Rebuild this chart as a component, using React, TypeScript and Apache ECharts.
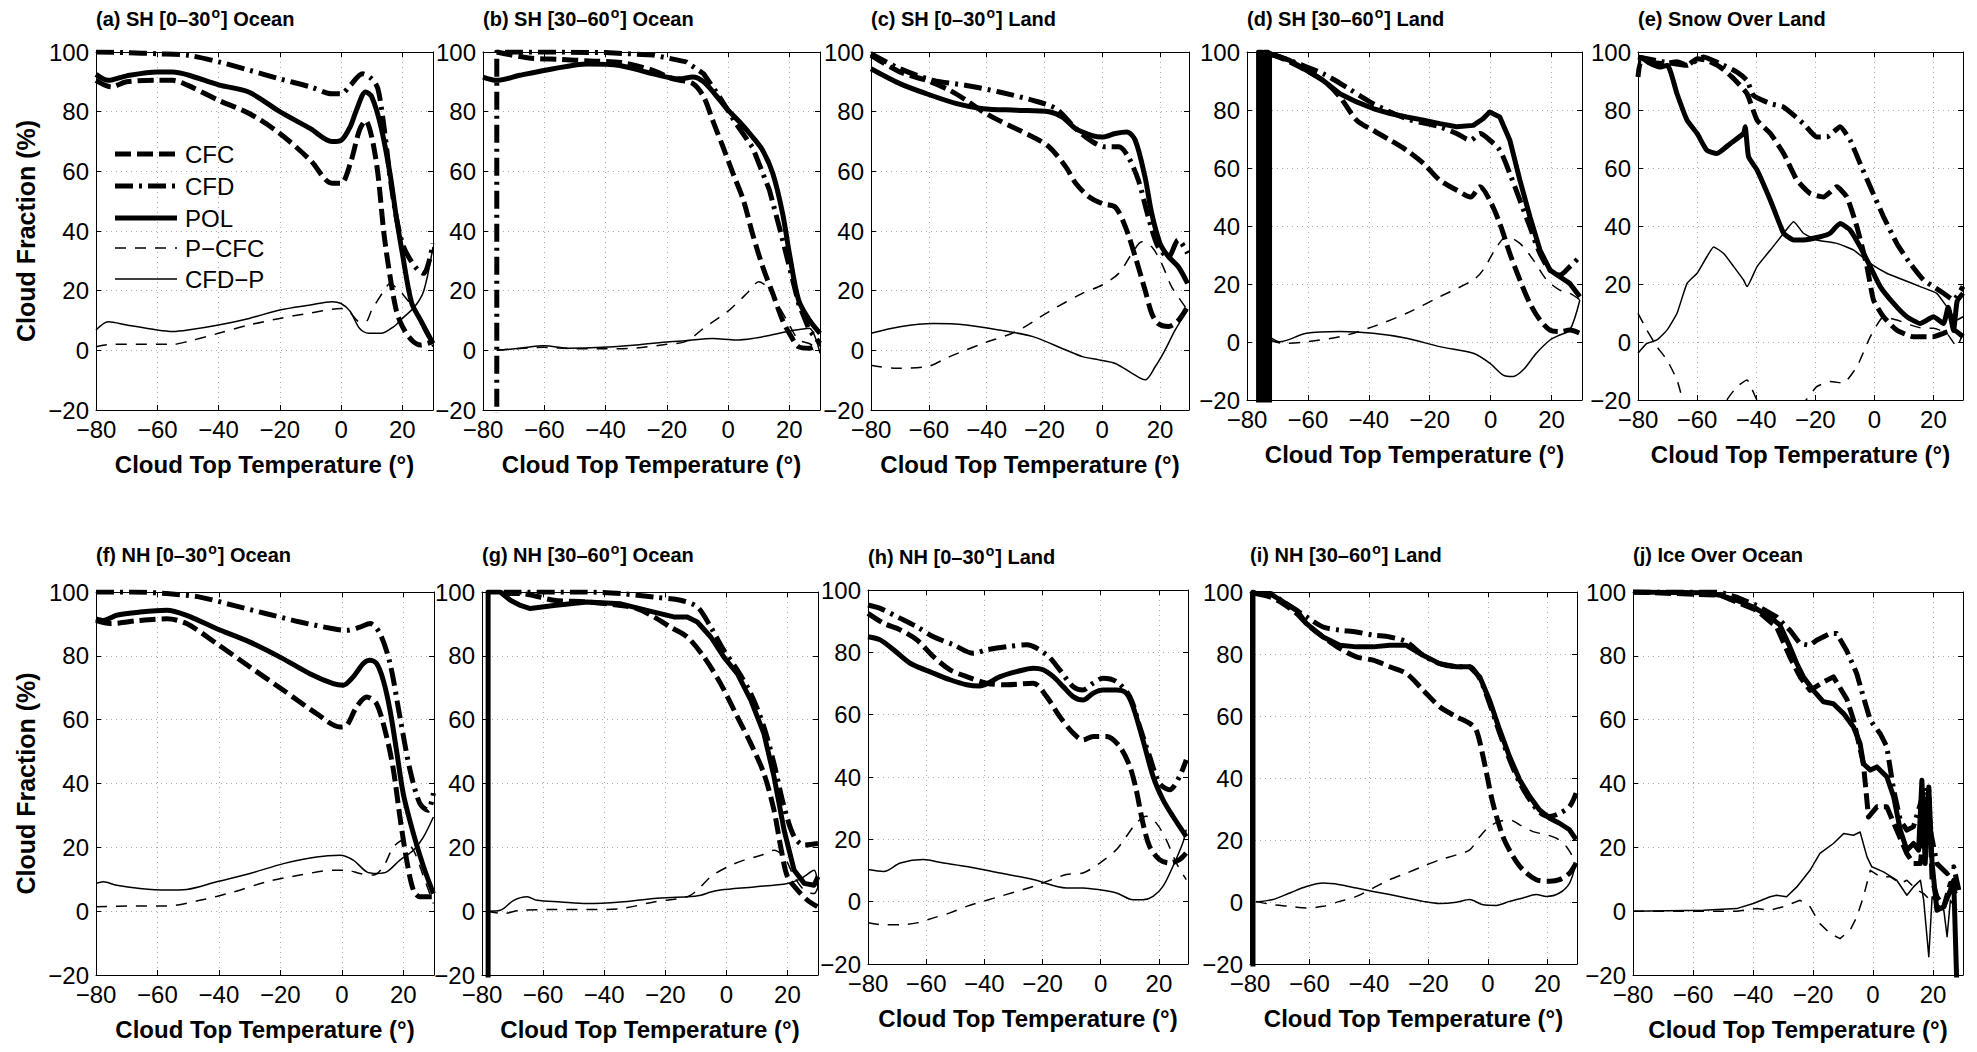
import React, { useEffect, useRef } from 'react';
import * as echarts from 'echarts';

type Pt = [number, number];

// ---- (a) SH [0-30] Ocean ----
const A_CFC: Pt[] = [[-80,90.5],[-75,88.3],[-70,90],[-60,90.5],[-55,90.5],[-50,88.8],[-40,83.8],[-30,79.4],[-20,72.7],[-10,63.7],[-3,56],[0,56],[3,62.6],[6,73.8],[8,77],[10,71.5],[12,59.3],[14,39],[16,24.7],[18,13.5],[20,8],[23,3.5],[26,1.8],[30,3]];
const A_CFD: Pt[] = [[-80,100],[-70,99.8],[-60,99.4],[-50,98.9],[-40,96.7],[-30,93.9],[-20,91],[-10,88.3],[-3,86],[0,86],[3,88.8],[7,92.7],[10,91],[12,87.7],[14,75],[16,58],[18,44.8],[20,35.8],[22,31.4],[25,27],[27,25.8],[30,35.8]];
const A_POL: Pt[] = [[-80,92.5],[-76,90.5],[-70,92],[-60,93.3],[-55,93.3],[-50,92.3],[-40,89],[-30,86.5],[-20,80],[-10,74.3],[-3,70],[0,70.4],[3,75],[5,80.5],[8,86.6],[10,85],[13,75],[16,59],[18,44.8],[20,32.5],[23,16],[26,10],[30,2.3]];
const A_PCFC: Pt[] = [[-80,1.2],[-75,2],[-60,2],[-55,2],[-50,3],[-40,5.7],[-30,8.5],[-20,10.7],[-10,12.5],[0,14],[3,12.5],[6,9.6],[8,9.6],[10,13.5],[14,20],[16,22.4],[18,21],[20,19],[24,13.5],[27,6.8],[30,1.2]];
const A_CFDP: Pt[] = [[-80,6.8],[-76,9.6],[-70,8.5],[-60,6.8],[-55,6.3],[-50,6.8],[-40,8.5],[-30,10.7],[-20,13.5],[-10,15.2],[-3,16.3],[0,15.7],[3,13],[6,7.4],[9,5.7],[13,5.7],[17,7.8],[20,10.7],[24,14.6],[27,20],[30,34.7]];

// ---- (b) SH [30-60] Ocean ----
const B_CFC: Pt[] = [[-75.5,100],[-65,98],[-55,97.5],[-45,97],[-35,96.5],[-25,94],[-18,91],[-11.5,89.4],[-8,85],[-5,77],[-1.6,68],[1.6,59.3],[5,50.3],[8,39],[11.3,28],[14.6,19],[17.8,10],[20,5.7],[23,1.2],[26.5,0.7],[30,2.3]];
const B_CFD: Pt[] = [[-75.5,-30],[-75.5,100],[-55,100],[-40,99.8],[-24.5,99],[-13.7,96.7],[-8,92.7],[-2.8,85],[2.6,76],[8,68],[13.5,53.7],[16.7,41.4],[20,28],[23,15.7],[26.5,6.8],[30,2.3]];
const B_POL: Pt[] = [[-80,91.6],[-75.6,90.5],[-68,92.2],[-57,94.4],[-46,96],[-35.4,95.5],[-24.5,92.7],[-16,91],[-11.5,91.6],[-8,90],[-4,85.5],[0,80.5],[3.7,76.6],[8,71.5],[11.3,67],[14.6,59.3],[17.8,45.9],[20,32.5],[23,16.9],[26.5,10.2],[30,5.7]];
const B_PCFC: Pt[] = [[-75.5,0],[-70,0.5],[-60,1],[-50,0.5],[-40,0.5],[-30,0.8],[-20,2],[-13.7,3],[-8,7.4],[0.4,13.5],[7,20],[10,23],[13,21],[16.7,14.6],[20,8.5],[23,3.5],[26.5,2.3],[30,0]];
const B_CFDP: Pt[] = [[-75.5,0],[-68,0.7],[-60,1.5],[-52,0.7],[-41,1],[-30,1.8],[-19,2.9],[-14,3.2],[-5,4],[2.6,3.5],[8,4],[13.5,5],[19,6.2],[22,6.8],[26.5,7.4],[30,-1]];

// ---- (c) SH [0-30] Land ----
const C_CFC: Pt[] = [[-80,98.9],[-70,93.3],[-60.8,90.5],[-52.8,87.2],[-47,83.8],[-41.3,80],[-35.6,77],[-24,71.5],[-18.4,68.2],[-12.6,61.5],[-9.2,56],[-4.6,51.5],[0,49.2],[4.5,48],[8,41.4],[11.4,31.4],[14.8,20.2],[17.1,12.4],[19.3,9],[22.9,8],[26.3,10],[29.5,14.6]];
const C_CFD: Pt[] = [[-80,99.4],[-70,94.4],[-58.5,90.5],[-47,88.8],[-35.6,86.6],[-24,83.8],[-16,81],[-9.2,74.3],[-3.5,70],[1,68.2],[5.7,68.2],[9,64.8],[12.5,57],[15.9,44.8],[19.3,34.7],[22.9,31.4],[26.3,37],[29.5,32.5]];
const C_POL: Pt[] = [[-80,94.4],[-70,89.4],[-60.8,86],[-50.4,82.7],[-41.3,81],[-29.8,80.5],[-18.4,80],[-13.8,78.2],[-9.2,74.3],[-3.5,72],[0,71.5],[4.5,72.7],[8.5,73.2],[11.4,70.4],[14.8,58],[17.1,45.9],[20,35.8],[22.9,31.4],[26.3,28],[29.5,22.4]];
const C_PCFC: Pt[] = [[-80,-5],[-72,-6],[-60.8,-5.5],[-52.8,-2.1],[-41.3,2.3],[-29.8,6.3],[-18.4,13],[-6.9,19.1],[0,21.9],[5.7,25.8],[10.3,32.5],[13.7,36.4],[17.1,34.7],[20.6,29],[24,21.3],[29.5,13.5]];
const C_CFDP: Pt[] = [[-80,5.7],[-70,7.9],[-58.5,9],[-47,8.5],[-35.6,6.8],[-24,4.6],[-12.6,0.1],[-6.9,-2.1],[-1.2,-3.2],[4.5,-4.4],[10.3,-7.7],[14.8,-9.9],[18.3,-5.5],[21.7,0.1],[25.2,6.8],[29.5,13.5]];

// ---- (d) SH [30-60] Land ----
const D_CFC: Pt[] = [[-72.6,99.4],[-66,96.6],[-55,90.2],[-49.5,84.5],[-44,76.5],[-38.6,73],[-33,69.6],[-27.6,66.1],[-22,61.5],[-16.7,55.8],[-11.2,52.4],[-6.6,50],[-3.5,53.5],[-0.3,48.9],[3,40.9],[6.3,30.5],[9.6,21.4],[12.9,13.3],[16.2,7.6],[19.5,4.1],[22.7,3.6],[26,4.1],[29.3,3]];
const D_CFD: Pt[] = [[-72.6,99.4],[-66,97.1],[-55,92.5],[-47.4,87.9],[-38.6,82.2],[-27.6,77],[-16.7,74.2],[-11.2,71.9],[-6.6,69.6],[-3.5,71.9],[-0.3,69.6],[3,66.1],[6.3,58.1],[9.6,48.9],[12.9,39.7],[16.2,30.5],[19.5,24.8],[22.7,23.1],[26,26],[29.3,29.4]];
const D_POL: Pt[] = [[-76.2,-30],[-76.2,100],[-75.2,100],[-75.2,-30],[-74.2,-30],[-74.2,100],[-73.2,100],[-73.2,-30],[-72.6,-30],[-72.6,99.4],[-69.3,98.3],[-66,97.1],[-60.5,93.7],[-55,90.2],[-49.5,85.6],[-44,82.8],[-38.6,80.5],[-33,78.8],[-27.6,77.6],[-22,76.5],[-16.7,75.3],[-11.2,74.2],[-5.7,74.7],[-2.5,77],[-0.3,79.3],[3,77.6],[6.3,69.6],[9.6,55.8],[12.9,43.2],[16.2,31.7],[19.5,24.8],[22.7,22.5],[26,20.2],[29.3,15.6]];
const D_PCFC: Pt[] = [[-72.6,0.7],[-68,-0.5],[-60.5,0.1],[-49.5,1.8],[-38.6,5.3],[-27.6,9.9],[-16.7,15.6],[-5.7,21.4],[-2.5,24.8],[2,32.8],[5.2,36.3],[9.6,34],[14,28.3],[18.4,21.4],[22.7,17.9],[26,16.8],[29.3,14.5]];
const D_CFDP: Pt[] = [[-72.6,1.8],[-69.3,0.1],[-60.5,3],[-49.5,3.6],[-38.6,3],[-27.6,1.3],[-16.7,-1.6],[-5.7,-3.9],[-0.3,-7.3],[4.1,-11.4],[7.4,-11.9],[10.7,-9.6],[15,-3.9],[19.5,0.7],[22.7,2.4],[26,4.1],[29.3,14.5]];

// ---- (e) Snow Over Land ----
const E_CFC: Pt[] = [[-80,91.4],[-79,96.6],[-71.3,96],[-66.8,96.6],[-63.4,95.4],[-60,97.7],[-56.7,97.1],[-52.2,94.8],[-47.6,90.8],[-43.1,85.6],[-39.7,76.5],[-35.2,71.9],[-30.7,65],[-26.2,55.8],[-21.7,51.2],[-17.2,50],[-12.7,53.5],[-9.3,50],[-5.9,39.7],[-2.5,26],[-0.3,14.5],[3.1,8.7],[7.6,4.1],[13.2,1.8],[20,1.8],[23.4,3],[26.8,4.1],[30,1.8]];
const E_CFD: Pt[] = [[-80,98.3],[-71.3,96.6],[-63.4,95.4],[-57.8,98.3],[-52.2,96],[-46.5,93.1],[-43.1,90.2],[-40.9,85],[-35.2,82.2],[-30.7,81],[-24,75.3],[-19.5,70.7],[-16.1,70.7],[-11.6,74.2],[-8.2,69.6],[-4.8,61.5],[-1.4,53.5],[3.1,43.2],[7.6,34],[12.1,27.1],[16.6,21.4],[20,19.1],[23.4,16.8],[26.8,14.5],[30,19.1]];
const E_POL: Pt[] = [[-79,98.3],[-75.8,96],[-72.4,94.8],[-70,95.4],[-66.8,85.6],[-63.4,76.5],[-60,71.9],[-56.7,66.1],[-53.3,65],[-48.8,68.4],[-44.3,71.9],[-43.7,74.2],[-42.6,63.9],[-39.7,59.3],[-35.2,48.9],[-30.7,37.5],[-27.3,35.2],[-24,35.2],[-18.3,36.3],[-15,37.5],[-11.6,40.9],[-8.2,38.6],[-4.8,32.8],[-1.4,26],[2,19.1],[6.5,13.3],[11,8.7],[15.5,6.4],[20,8.7],[23.4,6.4],[25,12],[26.8,4],[28,14],[30,16.8]];
const E_PCFC: Pt[] = [[-80,9.9],[-77,4.1],[-73.6,-1.6],[-70.2,-6.2],[-66.8,-13.1],[-63.4,-25],[-60,-30],[-54.4,-30],[-49.9,-20],[-46.5,-15.4],[-43.1,-13.1],[-39.7,-20],[-35.2,-23],[-29.6,-25],[-24,-21],[-19.5,-15.4],[-15,-13.6],[-10.5,-14.2],[-5.9,-8.5],[-1.4,1.8],[3.1,8.7],[7.6,7.6],[12.1,5.9],[16.6,4.7],[20,4.7],[24.5,3],[27.9,-1.6],[30,3]];
const E_CFDP: Pt[] = [[-80,-3.9],[-77,-0.5],[-73.6,0.7],[-70.2,4.1],[-66.8,9.9],[-63.4,20.2],[-60,23.7],[-56.7,29.4],[-54.4,32.8],[-51,30.5],[-47.6,26],[-44.3,21.4],[-43.1,19.1],[-39.7,26],[-35.2,31.7],[-30.7,37.5],[-27.3,41.5],[-24,37.5],[-19.5,35.2],[-12.7,34],[-7,31.7],[-1.4,27.1],[4.2,23.7],[9.9,21.4],[15.5,19.1],[21.1,16.8],[24.5,12.2],[27.9,7.6],[30,8.7]];

// ---- (f) NH [0-30] Ocean ----
const F_CFC: Pt[] = [[-80,91.1],[-75.4,90.1],[-65.7,91.1],[-57,91.6],[-50.5,90.1],[-40.7,83.8],[-29.9,76.5],[-19,69.2],[-8.2,61.9],[-0.6,57.7],[1.6,58.2],[4.8,64],[8.1,67.1],[11.3,65],[14.6,54.6],[16.8,44.2],[18.9,29.6],[21.1,16],[23.3,6.6],[25.4,4.5],[29.8,4.5]];
const F_CFD: Pt[] = [[-80,100],[-67.9,100],[-57,99.5],[-46.2,98.4],[-35.3,95.8],[-24.5,93.2],[-13.6,90.6],[-2.8,88.5],[1.6,88],[5.9,89],[9.2,90.1],[12.4,87],[15.7,77.6],[18.9,60.9],[22.2,44.2],[25.4,33.7],[28,31.6],[29.8,37]];
const F_POL: Pt[] = [[-80,91.6],[-77.6,91.1],[-73.3,92.7],[-65.7,93.7],[-57,94.3],[-50.5,92.7],[-40.7,88.5],[-29.9,84.3],[-20.1,79.6],[-10.4,74.4],[-2.8,71.3],[0.5,70.8],[3.7,73.4],[7,77.6],[9.2,78.6],[11.3,77.6],[13.5,72.3],[15.7,62.9],[17.8,50.4],[20,36.8],[23.3,24.3],[26.6,13.9],[29.8,5.5]];
const F_PCFC: Pt[] = [[-80,1.4],[-67.9,1.6],[-57,1.6],[-46.2,3.4],[-35.3,6],[-24.5,9.2],[-13.6,11.3],[-2.8,12.8],[1.6,12.8],[5.9,11.8],[10.3,11.3],[13.5,13.9],[16.8,20.1],[20,22.2],[23.3,19.1],[26.6,10.8],[29.8,2.4]];
const F_CFDP: Pt[] = [[-80,8.7],[-77.6,9.2],[-73.3,8.1],[-65.7,7.1],[-57,6.6],[-50.5,6.8],[-40.7,9.2],[-29.9,11.8],[-19,14.9],[-8.2,17],[-0.6,17.5],[3.7,16],[8.1,12.3],[11.3,11.8],[14.6,12.3],[18.9,16],[23.3,19.1],[26.6,23.3],[29.8,29.5]];

// ---- (g) NH [30-60] Ocean ----
const G_CFC: Pt[] = [[-72.9,99.5],[-67.4,99.5],[-56.5,97.4],[-45.6,96.9],[-34.6,95.8],[-29.2,94.8],[-23.7,92.2],[-18.3,89],[-12.8,85.9],[-7.3,79.6],[-1.9,71.3],[3.6,60.9],[8,52.5],[12.3,43.1],[15.6,31.6],[17.8,20.1],[20,10.8],[23.3,6.6],[26.6,3.4],[29.8,1.4]];
const G_CFD: Pt[] = [[-72.9,100],[-45.6,100],[-34.6,99.5],[-23.7,98.4],[-15,97.4],[-9.5,95.3],[-5.1,89],[-0.8,81.7],[3.6,75.5],[8,68.2],[12.3,57.7],[15.6,46.2],[18.9,32.7],[22.2,23.3],[25.5,20.7],[30,21.2]];
const G_POL: Pt[] = [[-78,-30],[-78,100],[-74,100],[-70.7,97.4],[-67.4,95.8],[-64.2,94.8],[-56.5,95.8],[-45.6,96.9],[-34.6,96.3],[-23.7,93.7],[-17.2,92.2],[-12.8,92.2],[-9.5,90.6],[-5.1,85.9],[-0.8,79.6],[3.6,74.4],[8,66.1],[12.3,55.6],[15.6,42.1],[18.9,25.4],[22.2,12.8],[25.5,8.7],[28.7,8.1],[30,10.8]];
const G_PCFC: Pt[] = [[-78.4,0],[-72.9,-0.7],[-67.4,0.3],[-56.5,0.5],[-45.6,0.5],[-34.6,0.8],[-23.7,2.9],[-12.8,4.5],[-9.5,6.6],[-5.1,10.8],[0.4,13.9],[5.8,16],[11.3,17.5],[15.6,19.1],[18.9,17],[22.2,10.8],[25.5,6.6],[28.7,5.5],[30,7.6]];
const G_CFDP: Pt[] = [[-78.4,0],[-74,0.3],[-69.6,3.4],[-65.2,4.5],[-62,3.4],[-54.3,2.9],[-45.6,2.4],[-34.6,2.9],[-23.7,4],[-12.8,4.5],[-8.4,5],[-5.1,6],[-1.9,6.6],[9.1,7.6],[20,8.7],[24.4,10.2],[28.7,12.8],[30,6.6]];

// ---- (h) NH [0-30] Land ----
const H_CFC: Pt[] = [[-80,92.5],[-74.6,89.3],[-68.9,87.2],[-63.2,84],[-57.5,78.6],[-51.8,74.4],[-46.1,72.2],[-39.2,70.1],[-32.3,69.6],[-23.2,70.1],[-18.6,65.8],[-14.1,59.4],[-9.5,54.1],[-6.1,51.9],[-2.6,53],[2,53],[6.5,49.8],[10,43.4],[12.2,35.9],[14.5,25.2],[16.8,17.7],[20.2,13.5],[23.7,12.4],[27.1,13.5],[29.4,15.6]];
const H_CFD: Pt[] = [[-80,95.2],[-75.8,94.1],[-68.9,90.9],[-63.2,88.2],[-57.5,85],[-50.6,82.4],[-43.8,79.7],[-39.2,80.8],[-32.3,81.8],[-25.5,82.4],[-18.6,79.2],[-14.1,74.4],[-9.5,69],[-6.1,67.9],[-2.6,70.1],[0.8,71.7],[5.4,70.6],[10,65.8],[13.4,56.2],[16.8,46.6],[20.2,38],[23.7,35.9],[27.1,40.2],[29.4,45.5]];
const H_POL: Pt[] = [[-80,85],[-75.8,84],[-71.2,80.8],[-65.5,76.5],[-57.5,73.3],[-51.8,71.2],[-46.1,69.6],[-41.5,69.2],[-34.6,72.2],[-28.9,73.8],[-23.2,74.9],[-19.8,74.4],[-16.3,72.2],[-12.9,69],[-9.5,65.8],[-6.1,64.7],[-2.6,66.9],[0.8,67.9],[5.4,67.9],[8.8,66.9],[11.1,62.6],[14.5,51.9],[18,40.2],[21.4,32.7],[24.8,27.4],[29.4,20.9]];
const H_PCFC: Pt[] = [[-80,-6.8],[-74.6,-7.4],[-68.9,-7.4],[-63.2,-6.8],[-57.5,-5.2],[-51.8,-3.6],[-46.1,-1.5],[-34.6,1.7],[-23.2,4.9],[-11.8,8.7],[-6.1,9.2],[-0.3,12.4],[5.4,16.7],[8.8,20.9],[12.2,25.2],[15.7,27.4],[19.1,25.2],[22.5,19.9],[26,12.4],[29.4,7.1]];
const H_CFDP: Pt[] = [[-80,10.3],[-74.6,9.7],[-68.9,12.4],[-60.9,13.5],[-54,12.4],[-46.1,11.3],[-34.6,9.2],[-23.2,7.1],[-11.8,4.4],[-6.1,4.4],[-0.3,3.8],[5.4,2.8],[11.1,0.6],[14.5,0.6],[18,1.7],[21.4,4.9],[24.8,11.3],[28.2,18.8],[29.4,23.1]];

// ---- (i) NH [30-60] Land ----
const I_CFC: Pt[] = [[-78,99.5],[-73.3,98.4],[-68.8,96.2],[-64.3,93],[-59.8,88.7],[-55.4,85.5],[-49.8,81.8],[-44.2,79.1],[-38.6,78],[-33,75.9],[-27.4,73.7],[-21.8,68.4],[-16.2,63],[-10.6,59.8],[-6.1,57.6],[-3.9,55.5],[-1.6,46.9],[1.7,31.9],[5.1,21.1],[8.5,14.7],[11.8,10.4],[16.3,7.2],[20.8,6.7],[24.1,7.2],[27.5,9.3],[29.7,12.6]];
const I_CFD: Pt[] = [[-78,99.5],[-73.3,99.5],[-68.8,96.8],[-64.3,94.1],[-61,92],[-55.4,88.7],[-49.8,87.7],[-44.2,87.1],[-38.6,86.1],[-33,85.5],[-27.4,83.9],[-21.8,79.6],[-16.2,76.9],[-10.6,75.9],[-6.1,75.9],[-2.7,72],[0.6,64],[4,54.5],[7.3,46],[10.7,38.5],[14.1,33],[17.4,29],[20.8,27.6],[24.1,28.6],[27.5,30.8],[29.7,35.1]];
const I_POL: Pt[] = [[-79,-30],[-79,100],[-78,99.5],[-73.3,99.5],[-68.8,96.8],[-64.3,94.1],[-61,89.8],[-55.4,85.5],[-49.8,82.8],[-44.2,82.3],[-38.6,82.3],[-33,82.8],[-27.4,82.8],[-21.8,79.6],[-16.2,76.9],[-10.6,75.9],[-6.1,75.9],[-2.7,72.6],[0.6,65.1],[4,55.5],[7.3,46.9],[10.7,39.4],[14.1,34],[17.4,29.7],[20.8,27],[24.1,25.4],[27.5,23.3],[29.7,20.1]];
const I_PCFC: Pt[] = [[-78,0.2],[-72.2,-0.9],[-66.6,-1.4],[-61,-1.9],[-55.4,-1.4],[-49.8,0.2],[-44.2,1.8],[-38.6,4.5],[-33,7.2],[-27.4,9.3],[-21.8,11.5],[-16.2,13.6],[-10.6,15.2],[-6.1,16.8],[-2.7,21.1],[0.6,24.4],[4,26],[7.3,26.5],[10.7,24.9],[15.2,22.7],[19.7,21.7],[23,20.6],[26.4,17.9],[29.7,12.6]];
const I_CFDP: Pt[] = [[-78,0],[-72.2,0.8],[-66.6,2.9],[-61,5],[-55.4,6.1],[-49.8,5.6],[-44.2,4.5],[-38.6,3.4],[-33,2.4],[-27.4,1.3],[-21.8,0.2],[-16.2,-0.5],[-10.6,-0.1],[-6.1,0.8],[-1.6,-0.9],[2.8,-1.1],[7.3,0.2],[11.8,1.3],[16.3,2.4],[19.7,1.8],[24.1,2.9],[27.5,6.1],[29.7,12.6]];

// ---- (j) Ice Over Ocean ----
const J_CFC: Pt[] = [[-80,100],[-51,99],[-45.5,96.9],[-38.8,94.3],[-32.1,89],[-27.7,79.6],[-24.3,73.4],[-21,69.2],[-16.5,71.8],[-13.2,73.4],[-8.7,66.4],[-6.5,60],[-3.2,46.2],[-1.5,29.5],[1.3,32.7],[4.6,32.7],[7.9,25.4],[11.3,18],[13.5,14.9],[15.8,14.9],[16.9,25.4],[18.6,37.9],[19.7,9.7],[21.3,4.5],[23.6,1.4],[25.8,8.7],[28,4.5]];
const J_CFD: Pt[] = [[-80,100],[-51,100],[-45.5,98.4],[-38.8,95.8],[-32.1,92.2],[-27.7,88],[-24.3,83.8],[-21,83.3],[-18.8,84.9],[-14.3,87],[-12.1,87],[-8.8,81.7],[-5.4,74.4],[-3.2,67.1],[-0.9,59.8],[2.4,55.6],[4.6,51.5],[6.9,37.9],[9.1,28.5],[11.3,25.4],[13.5,26.5],[15.8,33.7],[17.4,38.9],[19.1,25.4],[21.3,14.9],[24.7,11.8],[26.9,13.9],[28.6,6.6]];
const J_POL: Pt[] = [[-80,100],[-56.6,99.8],[-51,99],[-45.5,97.4],[-39.9,95.3],[-34.3,92.2],[-31,89.6],[-27.7,82.8],[-25.4,77.6],[-23.2,73.4],[-19.9,69.2],[-16.5,65.6],[-13.2,65],[-9.8,61.9],[-6.5,57.7],[-4.3,52.5],[-3.2,46.2],[-0.9,44.2],[1.3,45.2],[4.6,42.1],[6.9,35.8],[9.1,25.4],[11.3,19.1],[13.5,21.2],[15.2,19.1],[16.3,41],[17.4,14.9],[18.6,38.9],[19.7,14.9],[21.3,0.3],[23.6,1.4],[25.8,6.6],[26.9,9.7],[28,-25]];
const J_PCFC: Pt[] = [[-80,0],[-45.5,0],[-38.8,0.8],[-34.3,0.3],[-29.9,1.4],[-24.3,3.4],[-21,1.4],[-17.7,-3.9],[-14.3,-7],[-11,-8.6],[-7.6,-5.9],[-5.4,-1.8],[-3.2,4.5],[-0.9,12.8],[2.4,10.8],[5.7,10.8],[9.1,8.7],[11.3,9.7],[14.7,6.6],[16.9,5.5],[20.2,2.4],[23.6,0.3],[26.9,1.4]];
const J_CFDP: Pt[] = [[-80,0],[-56.6,0.3],[-45.5,0.8],[-39.9,2.4],[-34.3,4.5],[-32.1,5],[-28.8,4.5],[-25.4,7.6],[-21,12.8],[-17.7,18.1],[-13.2,21.2],[-9.8,24.3],[-6.5,23.8],[-4.3,24.8],[-2,17],[-0.4,13.9],[3.5,12.3],[7.9,9.7],[11.3,5],[13.5,7.6],[15.8,9.7],[16.9,3.4],[18.6,-14.3],[19.7,4.5],[21.3,2.4],[23.6,0.3],[24.7,-8],[25.8,3.4],[28,0.3]];

// Series order inside every panel: CFC, CFD, POL, P-CFC, CFD-P
const PANEL_SERIES: Pt[][][] = [
  [A_CFC, A_CFD, A_POL, A_PCFC, A_CFDP],
  [B_CFC, B_CFD, B_POL, B_PCFC, B_CFDP],
  [C_CFC, C_CFD, C_POL, C_PCFC, C_CFDP],
  [D_CFC, D_CFD, D_POL, D_PCFC, D_CFDP],
  [E_CFC, E_CFD, E_POL, E_PCFC, E_CFDP],
  [F_CFC, F_CFD, F_POL, F_PCFC, F_CFDP],
  [G_CFC, G_CFD, G_POL, G_PCFC, G_CFDP],
  [H_CFC, H_CFD, H_POL, H_PCFC, H_CFDP],
  [I_CFC, I_CFD, I_POL, I_PCFC, I_CFDP],
  [J_CFC, J_CFD, J_POL, J_PCFC, J_CFDP],
];

const SERIES_NAMES = ['CFC', 'CFD', 'POL', 'P\u2212CFC', 'CFD\u2212P'];

const PANEL_TITLES = [
  '(a) SH [0\u201330{sup|o}] Ocean',
  '(b) SH [30\u201360{sup|o}] Ocean',
  '(c) SH [0\u201330{sup|o}] Land',
  '(d) SH [30\u201360{sup|o}] Land',
  '(e) Snow Over Land',
  '(f) NH [0\u201330{sup|o}] Ocean',
  '(g) NH [30\u201360{sup|o}] Ocean',
  '(h) NH [0\u201330{sup|o}] Land',
  '(i) NH [30\u201360{sup|o}] Land',
  '(j) Ice Over Ocean',
];

const X_MIN = -80;
const X_MAX = 30;
const X_STEP = 20;
const Y_MIN = -20;
const Y_MAX = 100;
const Y_STEP = 20;
const X_NAME = 'Cloud Top Temperature (\u00b0)';
const Y_NAME = 'Cloud Fraction (%)';

// Plot boxes in pixels (left, top, width, height) and title offsets
const BOXES = [
  { left: 96, top: 52, width: 337, height: 358, titleTop: 6 },
  { left: 483, top: 52, width: 337, height: 358, titleTop: 6 },
  { left: 871, top: 52, width: 318, height: 358, titleTop: 6 },
  { left: 1247, top: 52, width: 335, height: 348, titleTop: 6 },
  { left: 1638, top: 52, width: 325, height: 348, titleTop: 6 },
  { left: 96, top: 592, width: 338, height: 383, titleTop: 542 },
  { left: 482, top: 592, width: 336, height: 383, titleTop: 542 },
  { left: 868, top: 590, width: 320, height: 374, titleTop: 544 },
  { left: 1250, top: 592, width: 327, height: 372, titleTop: 542 },
  { left: 1633, top: 592, width: 330, height: 383, titleTop: 542 },
];

const SMOOTH = [0.3, 0.3, 0.3, 0.3, 0.15, 0.3, 0.3, 0.3, 0.3, 0];

const LINE_LOOK = [
  { width: 5, dash: [16, 6] as number[] | null },
  { width: 5, dash: [18, 6, 3, 6] as number[] | null },
  { width: 5, dash: null as number[] | null },
  { width: 1.5, dash: [11, 9] as number[] | null },
  { width: 1.5, dash: null as number[] | null },
];

const FONT = '"Liberation Sans", Arial, Helvetica, sans-serif';

const fmtTick = (v: number) => (v < 0 ? '\u2212' + Math.abs(v) : String(v));

const isMonotone = (d: Pt[]) => d.every((p, i) => i === 0 || p[0] > d[i - 1][0]);

function buildOption() {
  const grid: any[] = [];
  const xAxis: any[] = [];
  const yAxis: any[] = [];
  const series: any[] = [];
  const title: any[] = [];

  const tick = { show: true, inside: true, length: 5, lineStyle: { color: '#000', width: 1 } };
  const axLine = { show: true, onZero: false, lineStyle: { color: '#000', width: 1 } };
  const split = { show: true, lineStyle: { color: '#aaaaaa', width: 1, type: [1, 4] } };

  BOXES.forEach((b, i) => {
    grid.push({ left: b.left, top: b.top, width: b.width, height: b.height, containLabel: false });
    title.push({
      text: PANEL_TITLES[i],
      left: b.left,
      top: b.titleTop,
      padding: 0,
      textStyle: {
        fontFamily: FONT,
        fontSize: 20,
        fontWeight: 'bold',
        color: '#000',
        lineHeight: 25,
        rich: {
          sup: { fontFamily: FONT, fontSize: 14, fontWeight: 'bold', color: '#000', lineHeight: 14, verticalAlign: 'top', padding: [0, 1, 0, 1] },
        },
      },
    });
    xAxis.push({
      gridIndex: i, type: 'value', position: 'bottom', min: X_MIN, max: X_MAX, interval: X_STEP,
      axisLine: axLine, axisTick: tick, splitLine: split,
      axisLabel: { showMaxLabel: false, formatter: fmtTick, color: '#000', fontSize: 24, fontFamily: FONT, margin: 7 },
      name: X_NAME, nameLocation: 'middle', nameGap: 42,
      nameTextStyle: { fontFamily: FONT, fontSize: 24, fontWeight: 'bold', color: '#000' },
    });
    xAxis.push({
      gridIndex: i, type: 'value', position: 'top', min: X_MIN, max: X_MAX, interval: X_STEP,
      axisLine: axLine, axisTick: tick, splitLine: { show: false }, axisLabel: { show: false },
    });
    const withName = i === 0 || i === 5;
    yAxis.push({
      gridIndex: i, type: 'value', position: 'left', min: Y_MIN, max: Y_MAX, interval: Y_STEP,
      axisLine: axLine, axisTick: tick, splitLine: split,
      axisLabel: { formatter: fmtTick, color: '#000', fontSize: 24, fontFamily: FONT, margin: 7 },
      name: withName ? Y_NAME : '', nameLocation: 'middle', nameGap: 58,
      nameTextStyle: { fontFamily: FONT, fontSize: 25, fontWeight: 'bold', color: '#000' },
    });
    yAxis.push({
      gridIndex: i, type: 'value', position: 'right', min: Y_MIN, max: Y_MAX, interval: Y_STEP,
      axisLine: axLine, axisTick: tick, splitLine: { show: false }, axisLabel: { show: false },
    });

    PANEL_SERIES[i].forEach((data, k) => {
      const look = LINE_LOOK[k];
      series.push({
        type: 'line',
        name: SERIES_NAMES[k],
        xAxisIndex: i * 2,
        yAxisIndex: i * 2,
        data,
        symbol: 'none',
        showSymbol: false,
        silent: true,
        clip: true,
        smooth: isMonotone(data) ? SMOOTH[i] : 0,
        lineStyle: { color: '#000', width: look.width, type: look.dash ? look.dash : 'solid', cap: 'butt', join: 'round' },
        z: 2 + k,
      });
    });
  });

  // Key drawn inside panel (a)
  const graphic: any[] = [];
  const rows = [154, 186, 218, 248, 279];
  rows.forEach((y, k) => {
    const look = LINE_LOOK[k];
    graphic.push({
      type: 'line',
      shape: { x1: 115, y1: y, x2: 177, y2: y },
      style: { stroke: '#000', lineWidth: look.width, lineDash: look.dash || undefined, lineCap: 'butt' },
      z: 10,
    });
    graphic.push({
      type: 'text',
      x: 185,
      y,
      style: { text: SERIES_NAMES[k], fontSize: 24, fontFamily: FONT, fill: '#000', verticalAlign: 'middle', align: 'left' },
      z: 10,
    });
  });

  return {
    animation: false,
    backgroundColor: '#fff',
    title,
    grid,
    xAxis,
    yAxis,
    series,
    graphic,
  };
}

export default function App() {
  const ref = useRef<HTMLDivElement>(null);
  useEffect(() => {
    document.body.style.margin = '0';
    if (!ref.current) return;
    const chart = echarts.init(ref.current, undefined, { renderer: 'svg' });
    chart.setOption(buildOption());
    return () => chart.dispose();
  }, []);
  return <div ref={ref} style={{ width: 1977, height: 1052, background: '#fff' }} />;
}
